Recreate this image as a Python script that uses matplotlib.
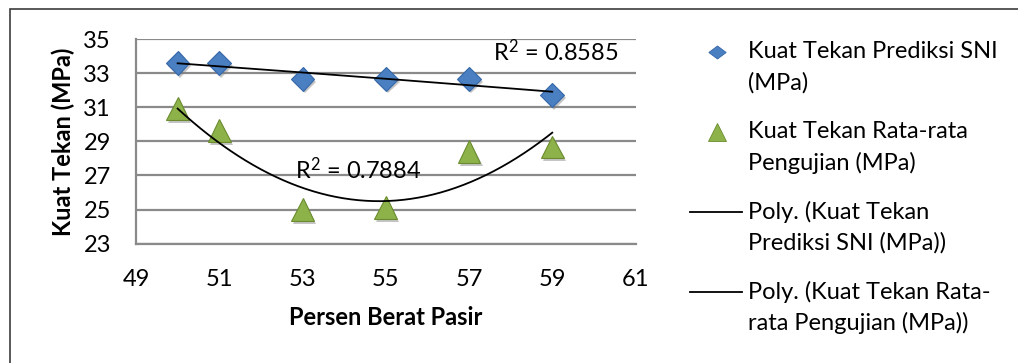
import numpy as np
import matplotlib
matplotlib.use("Agg")
import matplotlib.pyplot as plt
import matplotlib.patheffects as pe
from matplotlib.lines import Line2D
from matplotlib.patches import Rectangle

plt.rcParams['font.family'] = ['Lato', 'DejaVu Sans']
plt.rcParams['mathtext.fontset'] = 'custom'
plt.rcParams['mathtext.rm'] = 'Lato'
plt.rcParams['mathtext.it'] = 'Lato'
plt.rcParams['mathtext.bf'] = 'Lato:bold'

# Persen berat pasir (%)
persen_pasir = [50, 51, 53, 55, 57, 59]
# Kuat tekan (MPa)
prediksi_sni = [33.58, 33.58, 32.66, 32.67, 32.67, 31.72]
rata_pengujian = [30.92, 29.62, 24.98, 25.12, 28.38, 28.67]

x_ticks = [49, 51, 53, 55, 57, 59, 61]
y_ticks = [23, 25, 27, 29, 31, 33, 35]

r2_labels = [r"$\mathrm{R}^{2}$ = 0.8585", r"$\mathrm{R}^{2}$ = 0.7884"]
legend_labels = [
    ["Kuat Tekan Prediksi SNI", "(MPa)"],
    ["Kuat Tekan Rata-rata", "Pengujian (MPa)"],
    ["Poly. (Kuat Tekan", "Prediksi SNI (MPa))"],
    ["Poly. (Kuat Tekan Rata-", "rata Pengujian (MPa))"],
]

FS = 17

W, H = 1018, 363
fig = plt.figure(figsize=(W / 100, H / 100), dpi=100)

def fx(px):
    return px / W

def fy(py):
    return 1 - py / H

# chart area border
fig.add_artist(Rectangle((fx(10), fy(H + 20)), fx(W + 20), (H + 11) / H,
                         transform=fig.transFigure, fill=False,
                         edgecolor="#3c3c3c", linewidth=1.2))

ax = fig.add_axes([fx(136), fy(243.7), fx(635.5) - fx(136), fy(39) - fy(243.7)])
ax.set_xlim(49, 61)
ax.set_ylim(23, 35)
ax.set_xticks(x_ticks)
ax.set_yticks(y_ticks)
ax.tick_params(axis="y", length=0, labelsize=FS, pad=18, colors="black")
ax.tick_params(axis="x", length=0, labelsize=FS, pad=18, colors="black")
ax.grid(axis="y", color="#8a8a8a", linewidth=1.6)
ax.set_axisbelow(True)
for side in ("top", "right"):
    ax.spines[side].set_visible(False)
for side in ("left", "bottom"):
    ax.spines[side].set_color("#8a8a8a")
    ax.spines[side].set_linewidth(1.6)

ax.set_ylabel("Kuat Tekan (MPa)", fontsize=FS, fontweight="bold", labelpad=6)
ax.set_xlabel("Persen Berat Pasir", fontsize=FS, fontweight="bold", labelpad=12)

shadow = [pe.SimplePatchShadow(offset=(1.5, -2), shadow_rgbFace="#808080", alpha=0.45), pe.Normal()]

blue_face, blue_edge = "#4a7fc1", "#3567a8"
green_face, green_edge = "#8db24a", "#6a8c2e"

ax.plot(persen_pasir, prediksi_sni, linestyle="none", marker="D", markersize=12,
        markerfacecolor=blue_face, markeredgecolor=blue_edge, markeredgewidth=0.8,
        path_effects=shadow, zorder=3)
ax.plot(persen_pasir, rata_pengujian, linestyle="none", marker="^", markersize=16.5,
        markerfacecolor=green_face, markeredgecolor=green_edge, markeredgewidth=0.8,
        path_effects=shadow, zorder=3)

# second-order polynomial trendlines
xs = np.linspace(min(persen_pasir), max(persen_pasir), 200)
for series in (prediksi_sni, rata_pengujian):
    coef = np.polyfit(persen_pasir, series, 2)
    ax.plot(xs, np.polyval(coef, xs), color="black", linewidth=1.3, zorder=4)

ax.text(57.58, 34.24, r2_labels[0], fontsize=FS, va="center", ha="left", zorder=5)
ax.text(52.82, 27.32, r2_labels[1], fontsize=FS, va="center", ha="left", zorder=5)

# legend
flat_diamond = [(-1, 0), (0, 0.75), (1, 0), (0, -0.75), (-1, 0)]
first_rows = [52, 132, 212, 292]
line_gap = 31
text_x = 748
for i, (rows, y0) in enumerate(zip(legend_labels, first_rows)):
    for j, row in enumerate(rows):
        fig.text(fx(text_x), fy(y0 + j * line_gap), row, fontsize=FS,
                 va="center", ha="left", color="black")
    if i == 0:
        fig.add_artist(Line2D([fx(717)], [fy(y0)], linestyle="none", marker=flat_diamond,
                              markersize=12.5, markerfacecolor=blue_face,
                              markeredgecolor=blue_edge, markeredgewidth=0.6,
                              transform=fig.transFigure))
    elif i == 1:
        fig.add_artist(Line2D([fx(717)], [fy(y0)], linestyle="none", marker="^",
                              markersize=12.5, markerfacecolor=green_face,
                              markeredgecolor=green_edge, markeredgewidth=0.6,
                              transform=fig.transFigure))
    else:
        fig.add_artist(Line2D([fx(690), fx(742)], [fy(y0), fy(y0)], color="black",
                              linewidth=1.3, transform=fig.transFigure))

fig.savefig("out.png", dpi=100, facecolor="white")
